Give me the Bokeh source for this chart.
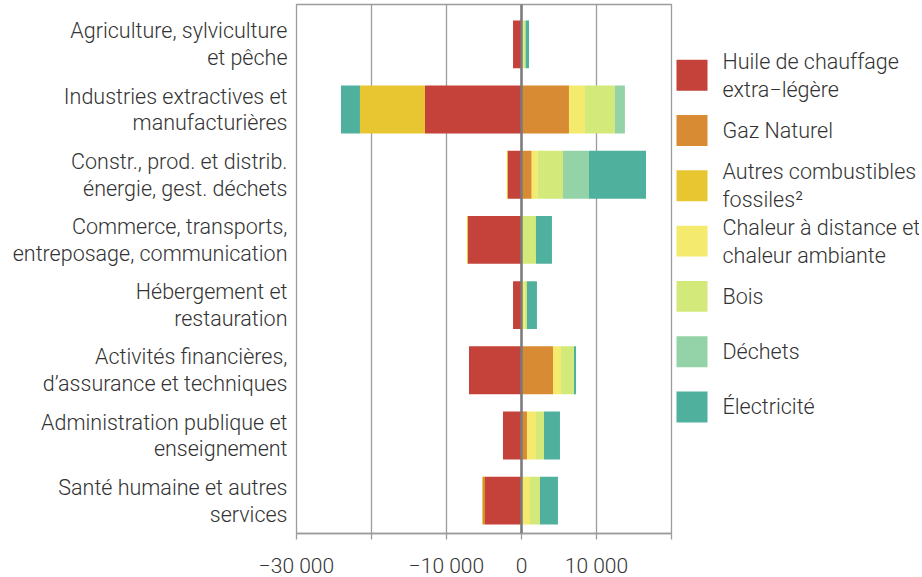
import numpy as np
from bokeh.plotting import figure
from bokeh.models import Range1d, FixedTicker, Span, ColumnDataSource
from bokeh.layouts import row
from bokeh.core.properties import value
from bokeh.embed import file_html
from bokeh.resources import INLINE

# ---------------- data ----------------
categories = [
    "Agriculture, sylviculture\net pêche",
    "Industries extractives et\nmanufacturières",
    "Constr., prod. et distrib.\nénergie, gest. déchets",
    "Commerce, transports,\nentreposage, communication",
    "Hébergement et\nrestauration",
    "Activités financières,\nd’assurance et techniques",
    "Administration publique et\nenseignement",
    "Santé humaine et autres\nservices",
]
series_names = [
    "Huile de chauffage\nextra−légère",
    "Gaz Naturel",
    "Autres combustibles\nfossiles²",
    "Chaleur à distance et\nchaleur ambiante",
    "Bois",
    "Déchets",
    "Électricité",
]
colors = ["#C4423A", "#D88B33", "#E8C631", "#F3EA6E", "#D3E97A", "#94D3A8", "#4FB09E"]

huile   = [-1130, -12870, -1800, -7130, -1130, -7000, -2470, -4870]
gaz     = [0, 6330, 1360, 0, 0, 4200, 730, -300]
autres  = [0, -8670, -150, -130, 0, 0, 0, -100]
chaleur = [250, 2130, 800, 0, 450, 1070, 1200, 1130]
bois    = [300, 4000, 3370, 1930, 280, 1730, 1070, 1330]
dechets = [0, 1330, 3470, 0, 0, 0, 0, 0]
elec    = [450, -2530, 7600, 2130, 1330, 270, 2130, 2400]

x_ticks = [-30000, -20000, -10000, 0, 10000, 20000]
x_tick_labels = ["−30 000", "", "−10 000", "0", "10 000", ""]

series_values = [huile, gaz, autres, chaleur, bois, dechets, elec]

# ---------------- style ----------------
FONT = "Roboto Light"
TXT = "#333333"
GRID = "#9c9c9c"
H = 580
W_MAIN = 673
W_LEG = 246

ypos = np.arange(1, len(categories) + 1)

p = figure(width=W_MAIN, height=H, output_backend="svg", toolbar_location=None,
           x_range=Range1d(x_ticks[0], x_ticks[-1]),
           y_range=Range1d(len(categories) + 0.504, 0.389),
           min_border_left=296, min_border_right=2, min_border_top=4, min_border_bottom=39)
p.background_fill_color = "white"
p.border_fill_color = "white"
p.outline_line_color = GRID
p.outline_line_width = 1.3

pos_base = np.zeros(len(categories))
neg_base = np.zeros(len(categories))
for vals, col in zip(series_values, colors):
    v = np.array(vals, dtype=float)
    left = np.where(v >= 0, pos_base, neg_base + v)
    right = np.where(v >= 0, pos_base + v, neg_base)
    pos_base = pos_base + np.where(v >= 0, v, 0)
    neg_base = neg_base + np.where(v < 0, v, 0)
    src = ColumnDataSource(dict(y=ypos, left=left, right=right))
    p.hbar(y="y", left="left", right="right", height=0.734, source=src,
           fill_color=col, line_color=None)

p.add_layout(Span(location=0, dimension="height", line_color="#7a7a7a", line_width=2.5))

# grid
p.xgrid.ticker = FixedTicker(ticks=x_ticks)
p.xgrid.grid_line_color = GRID
p.xgrid.grid_line_width = 1.3
p.ygrid.grid_line_color = None

# x axis
p.xaxis.ticker = FixedTicker(ticks=x_ticks)
p.xaxis.major_label_overrides = {t: l for t, l in zip(x_ticks, x_tick_labels)}
p.xaxis.axis_line_color = GRID
p.xaxis.axis_line_width = 1.3
p.xaxis.major_tick_line_color = GRID
p.xaxis.major_tick_line_width = 1.3
p.xaxis.major_tick_out = 6
p.xaxis.major_tick_in = 0
p.xaxis.minor_tick_line_color = None
p.xaxis.major_label_text_font = FONT
p.xaxis.major_label_text_font_size = "21px"
p.xaxis.major_label_text_color = TXT
p.xaxis.major_label_standoff = 14

# y axis
p.yaxis.ticker = FixedTicker(ticks=list(ypos))
p.yaxis.major_label_overrides = {int(i): c for i, c in zip(ypos, categories)}
p.yaxis.axis_line_color = None
p.yaxis.major_tick_line_color = None
p.yaxis.minor_tick_line_color = None
p.yaxis.major_label_text_font = FONT
p.yaxis.major_label_text_font_size = "21.5px"
p.yaxis.major_label_text_color = TXT
p.yaxis.major_label_text_line_height = 1.07
p.yaxis.major_label_standoff = 3

# ---------------- legend figure ----------------
# (its frame is aligned with the main frame: page y 6 .. 537)
leg = figure(width=W_LEG, height=H, output_backend="svg", toolbar_location=None,
             x_range=Range1d(0, W_LEG), y_range=Range1d(537, 6),
             min_border=0, x_axis_type=None, y_axis_type=None)
leg.outline_line_color = None
leg.grid.grid_line_color = None
idx = np.arange(len(series_names))
centers = 77.0 + 55.5 * idx
leg.rect(x=18.5, y=centers, width=31, height=31, fill_color=colors, line_color=None)
leg.text(x=49, y=centers, text=series_names, text_baseline="middle", text_align="left",
         text_font=value(FONT), text_font_size="21.5px", text_color=TXT, text_line_height=1.12)

layout = row(p, leg, spacing=0)
open("out.html", "w").write(file_html(layout, INLINE))
